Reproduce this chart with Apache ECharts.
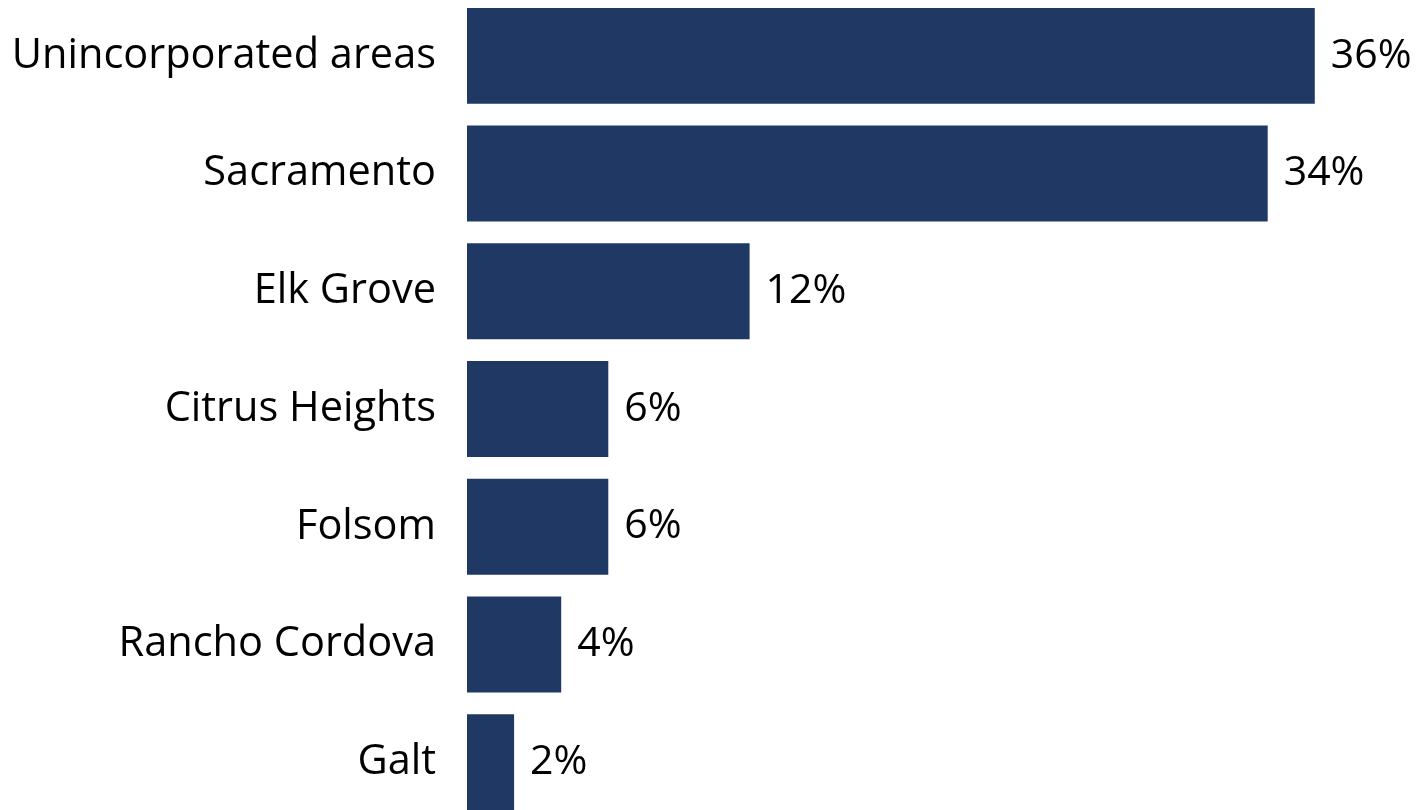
<!DOCTYPE html>
<html><head><meta charset="utf-8">
<script src="https://cdn.jsdelivr.net/npm/echarts@6/dist/echarts.min.js"></script>
<style>html,body{margin:0;padding:0;background:#fff;overflow:hidden}#c{width:1421px;height:824px;margin-top:-3px}</style>
</head><body><div id="c"></div>
<script>
const categories = ["Unincorporated areas","Sacramento","Elk Grove","Citrus Heights","Folsom","Rancho Cordova","Galt"];
const values = [36,34,12,6,6,4,2];
const FONT = 'Open Sans';
const chart = echarts.init(document.getElementById('c'));
chart.setOption({
  animation:false,
  grid:{left:467, right:12, top:0, bottom:0, containLabel:false},
  xAxis:{type:'value', min:0, max:40, show:false},
  yAxis:{type:'category', inverse:true, data:categories,
    axisLine:{show:false}, axisTick:{show:false}, splitLine:{show:false},
    axisLabel:{margin:31, color:'#000', fontSize:41.5, fontFamily:FONT}},
  series:[{type:'bar', data:values, barCategoryGap:'18.5%', itemStyle:{color:'#1F3864'},
    label:{show:true, position:'right', distance:16, formatter:'{c}%', color:'#000', fontSize:41, fontFamily:FONT}}]
});
</script></body></html>
